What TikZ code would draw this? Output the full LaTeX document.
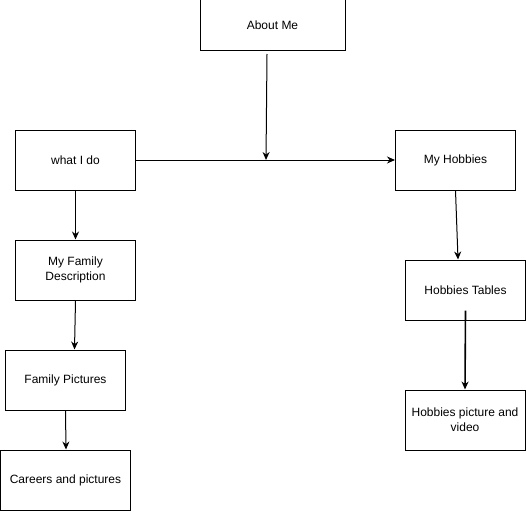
\documentclass[tikz,border=0pt]{standalone}
\usepackage{fontspec}
\setmainfont{Liberation Sans}
\usetikzlibrary{arrows.meta}
\begin{document}
\begin{tikzpicture}[x=1pt, y=-1pt,
    pagebox/.style={draw, line width=1pt, rectangle, minimum width=120pt, minimum height=60pt,
      align=center, inner sep=0pt, font=\fontsize{12}{15}\selectfont},
    link/.style={line width=1pt, -{Stealth[length=8pt, width=7pt]}}]
  \useasboundingbox (0,0) rectangle (526,511);
  % pages
  \node[pagebox, minimum width=145pt, minimum height=50pt] (about) at (272.5,25) {About Me};
  \node[pagebox] (whatido) at (75.5,160) {what I do};
  \node[pagebox] (hobbies) at (455.5,160) {My Hobbies};
  \node[pagebox] (famdesc) at (75.5,270) {My Family\\Description};
  \node[pagebox] (fampics) at (65.5,380) {Family Pictures};
  \node[pagebox, minimum width=130pt] (careers) at (65.5,480) {Careers and pictures};
  \node[pagebox] (tables) at (465.5,290) {Hobbies Tables};
  \node[pagebox] (hobvid) at (465,420) {Hobbies picture and\\video};
  \coordinate (aboutout) at (267,54);
  \coordinate (join) at (266,160);
  % links
  \draw[link] (aboutout) -- (join);
  \draw[link] (whatido.east) -- (hobbies.west);
  \draw[link] (whatido.south) -- (famdesc.north);
  \draw[link] (famdesc.south) -- ([xshift=9pt]fampics.north);
  \draw[link] (fampics.south) -- ([xshift=0.5pt]careers.north);
  \draw[link] (hobbies.south) -- ([xshift=-7.5pt]tables.north);
  \draw[link, line width=1.6pt] ([yshift=10pt]tables.south) -- (hobvid.north);
\end{tikzpicture}
\end{document}
